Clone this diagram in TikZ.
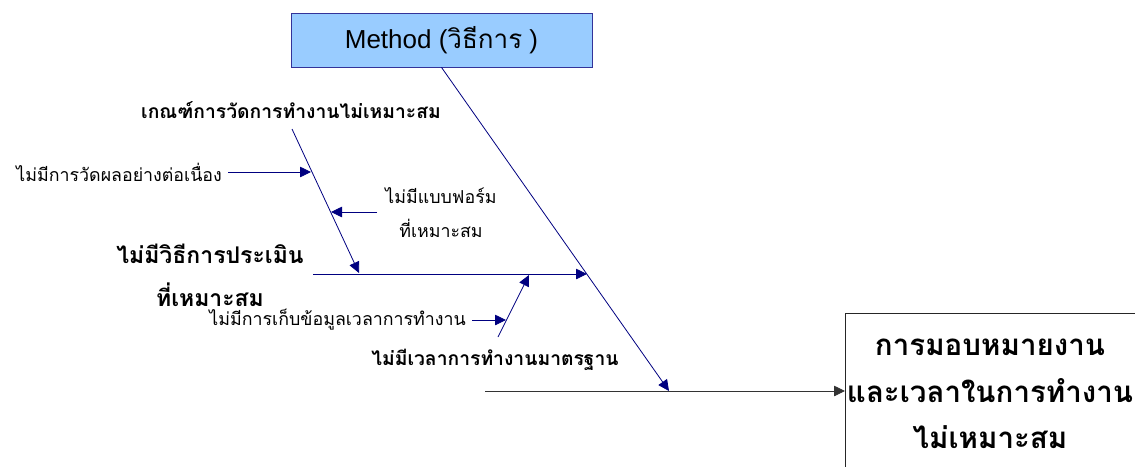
\documentclass[tikz,border=0pt]{standalone}
\usepackage{fontspec}
\setmainfont{Liberation Sans}
\newfontfamily\thai[Script=Thai]{Loma}
\usetikzlibrary{arrows.meta}
\definecolor{navyline}{HTML}{000080}
\definecolor{boxblue}{HTML}{99CCFF}
\definecolor{methodborder}{HTML}{333399}
\begin{document}
\begin{tikzpicture}[x=1pt,y=-1pt,
  bone/.style={draw=navyline, line width=0.8pt},
  tip/.style={-{Triangle[length=11pt,width=10.5pt]}},
  lab/.style={font=\thai\fontsize{17.8}{34}\selectfont, inner sep=0pt, align=center},
  labb/.style={font=\thai\bfseries\fontsize{19.3}{22}\selectfont, inner sep=0pt, align=center},
  labbig/.style={font=\thai\bfseries\fontsize{23}{43}\selectfont, inner sep=0pt, align=center}]
\useasboundingbox (0,0) rectangle (1135,466);
\clip (0,0) rectangle (1135,466);
% head box
\node[draw=methodborder, fill=boxblue, minimum width=301pt, minimum height=54pt, inner sep=0pt, line width=0.8pt] (method) at (441.5,40) {\fontsize{26}{30}\selectfont Method ({\thai วิธีการ} )};
% result box
\node[draw=black!85, line width=0.8pt, minimum width=320pt, minimum height=180pt, anchor=north west, inner sep=0pt] (res) at (845,313) {};
\node[font=\thai\bfseries\fontsize{29.5}{46.5}\selectfont, align=center, inner sep=0pt] (restext) at (990,394) {การมอบหมายงาน\\และเวลาในการทำงาน\\ไม่เหมาะสม};
% coordinates
\coordinate (spL) at (485,391);
\coordinate (spJ) at (669,391);
\coordinate (b1L) at (313,274);
\coordinate (b1J) at (587,274);
\coordinate (d1T) at (292,129);
\coordinate (d1J) at (359,273);
\coordinate (a1J) at (311,172);
\coordinate (a2S) at (377,212);
\coordinate (a2J) at (331,212);
\coordinate (d2B) at (498,337);
\coordinate (d2J) at (529,275);
\coordinate (b2J) at (506,320);
% labels
\node[labb] (cat) at (291,110) {เกณฑ์การวัดการทำงานไม่เหมาะสม};
\node[lab, anchor=east] (l1) at (222,172) {ไม่มีการวัดผลอย่างต่อเนื่อง};
\node[lab] (l2) at (441,213) {ไม่มีแบบฟอร์ม\\ที่เหมาะสม};
\node[labbig] (l3) at (210,275) {ไม่มีวิธีการประเมิน\\ที่เหมาะสม};
\node[lab, anchor=east] (l4) at (466,320) {ไม่มีการเก็บข้อมูลเวลาการทำงาน};
\node[labb] (l5) at (495,360) {ไม่มีเวลาการทำงานมาตรฐาน};
% connectors
\draw[black!80, line width=0.8pt, tip] (spL) -- (res.west |- spL);
\draw[bone, tip] (method.south) -- (spJ);
\draw[bone, tip] (b1L) -- (b1J);
\draw[bone, tip] (d1T) -- (d1J);
\draw[bone, tip] ([xshift=6pt]l1.east) -- (a1J);
\draw[bone, tip] (a2S) -- (a2J);
\draw[bone, tip] (d2B) -- (d2J);
\draw[bone, tip] ([xshift=6pt]l4.east) -- (b2J);
\end{tikzpicture}
\end{document}
